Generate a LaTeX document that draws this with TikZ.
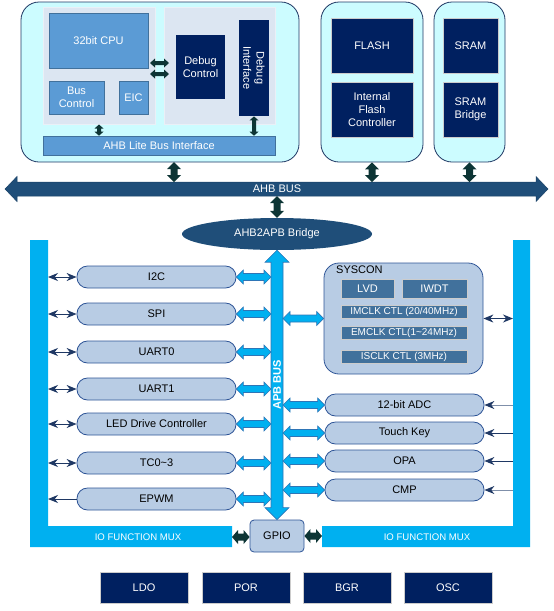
\documentclass[tikz,border=0pt]{standalone}
\usepackage{fontspec}
\setmainfont{Liberation Sans}
\usetikzlibrary{arrows.meta,calc,shapes.geometric}
\definecolor{navy}{HTML}{002060}
\definecolor{busblue}{HTML}{1F4E79}
\definecolor{midblue}{HTML}{5B9BD5}
\definecolor{midblueE}{HTML}{41719C}
\definecolor{panelgrey}{HTML}{DCE6F2}
\definecolor{cyanpanel}{HTML}{CCFCFF}
\definecolor{panelEdge}{HTML}{1F3864}
\definecolor{muxblue}{HTML}{00B0F0}
\definecolor{pillfill}{HTML}{B8CCE4}
\definecolor{pilledge}{HTML}{2F5597}
\definecolor{darkconn}{HTML}{0D3535}
\definecolor{steel}{HTML}{41719C}
\definecolor{apbedge}{HTML}{2E75B6}
\definecolor{navyline}{HTML}{1F3864}
\definecolor{greyline}{HTML}{7F8FA9}
\newcommand\fmain{\fontsize{11}{13.3}\selectfont}
\newcommand\fclk{\fontsize{10}{11}\selectfont}
\newcommand\fmux{\fontsize{9.6}{11}\selectfont}
% horizontal block double arrow: style, left point, right point, shaft half, head half, head length
\newcommand\blkH[6]{\path[#1] let \p1=(#2), \p2=(#3) in (\x1,\y1) -- (\x1+#6pt,\y1+#5pt) -- (\x1+#6pt,\y1+#4pt) -- (\x2-#6pt,\y1+#4pt) -- (\x2-#6pt,\y1+#5pt) -- (\x2,\y1) -- (\x2-#6pt,\y1-#5pt) -- (\x2-#6pt,\y1-#4pt) -- (\x1+#6pt,\y1-#4pt) -- (\x1+#6pt,\y1-#5pt) -- cycle;}
% vertical block double arrow: style, top point, bottom point, shaft half, head half, head length
\newcommand\blkV[6]{\path[#1] let \p1=(#2), \p2=(#3) in (\x1,\y1) -- (\x1+#5pt,\y1-#6pt) -- (\x1+#4pt,\y1-#6pt) -- (\x1+#4pt,\y2+#6pt) -- (\x1+#5pt,\y2+#6pt) -- (\x1,\y2) -- (\x1-#5pt,\y2+#6pt) -- (\x1-#4pt,\y2+#6pt) -- (\x1-#4pt,\y1-#6pt) -- (\x1-#5pt,\y1-#6pt) -- cycle;}
\begin{document}
\begin{tikzpicture}[x=1pt,y=-1pt,
  every node/.style={font=\fmain, inner sep=0pt},
  panel/.style={draw=panelEdge, fill=cyanpanel, rounded corners=18pt, line width=0.8pt},
  greypanel/.style={fill=panelgrey, draw=panelgrey!60!white, line width=1pt},
  mid/.style={fill=midblue, draw=midblueE, line width=0.6pt, text=white, align=center},
  dark/.style={fill=navy, draw=gray!40, line width=0.8pt, text=white, align=center},
  pill/.style={fill=pillfill, draw=pilledge, line width=0.8pt, rounded corners=10.5pt, minimum width=159pt, minimum height=22pt},
  steelbox/.style={fill=steel, draw=gray!40, line width=0.6pt, text=white},
  busarr/.style={fill=busblue, draw=busblue!85!black, line width=0.5pt},
  darkarr/.style={fill=darkconn},
  lightarr/.style={fill=muxblue, draw=apbedge, line width=0.6pt},
  thinnavy/.style={draw=navyline, line width=1pt, arrows={Stealth[length=10pt,width=8pt]-Stealth[length=10pt,width=8pt]}},
  thinin/.style={line width=1pt, arrows={-Stealth[length=10pt,width=8pt,color=navyline]}}
]
\useasboundingbox (0,0) rectangle (554,611);

% ---- CPU subsystem ----
\node[panel, minimum width=278pt, minimum height=160pt] (cpuPanel) at (160,82) {};
\node[greypanel, minimum width=112pt, minimum height=117pt] (leftGrey) at (99,65.5) {};
\node[greypanel, minimum width=111pt, minimum height=117pt] (rightGrey) at (219.5,65.5) {};
\node[mid, minimum width=99pt, minimum height=55pt] (cpu) at (98.5,40.5) {32bit CPU};
\node[mid, minimum width=55pt, minimum height=33pt] (busctl) at (76.5,97.5) {Bus\\Control};
\node[mid, minimum width=29pt, minimum height=33pt] (eic) at (133.5,97.5) {EIC};
\node[dark, draw=none, minimum width=49pt, minimum height=64pt] (dbgctl) at (200.5,67) {Debug\\Control};
\node[dark, draw=none, minimum width=30pt, minimum height=96pt] (dbgif) at (254,68) {};
\node[text=white, rotate=-90, align=center] (dbgiftxt) at (dbgif.center) {Debug\\Interface};
\node[mid, minimum width=232pt, minimum height=19pt] (ahblite) at (159,145.5) {AHB Lite Bus Interface};
\coordinate (cd1a) at (150,63); \coordinate (cd1b) at (169,63);
\coordinate (cd2a) at (150,74); \coordinate (cd2b) at (169,74);
\blkH{darkarr}{cd1a}{cd1b}{2}{4.5}{5}
\blkH{darkarr}{cd2a}{cd2b}{2}{4.5}{5}
\blkV{darkarr}{leftGrey.south}{leftGrey.south |- ahblite.north}{2}{4.5}{4}
\blkV{darkarr}{dbgif.south}{dbgif.south |- ahblite.north}{2}{4.5}{4}

% ---- Flash / SRAM ----
\node[panel, minimum width=102pt, minimum height=160pt] (flashPanel) at (372,82) {};
\node[dark, minimum width=82pt, minimum height=55pt] (flash) at (372,45.5) {FLASH};
\node[dark, minimum width=82pt, minimum height=55pt] (ifc) at (372,109.5) {Internal\\Flash\\Controller};
\node[panel, minimum width=71pt, minimum height=160pt] (sramPanel) at (469.5,82) {};
\node[dark, minimum width=55pt, minimum height=55pt] (sram) at (470.5,45.5) {SRAM};
\node[dark, minimum width=55pt, minimum height=55pt] (sramb) at (470.5,109.5) {SRAM\\Bridge};

% ---- AHB bus ----
\coordinate (ahbL) at (5,189); \coordinate (ahbR) at (548,189);
\blkH{busarr}{ahbL}{ahbR}{7}{12.5}{12}
\node[text=white] (ahbtxt) at (277,189) {AHB BUS};
\coordinate (ahbtop) at (0,182); \coordinate (ahbbot) at (0,196);
\coordinate (cpuout) at (174,162);
\blkV{darkarr}{cpuout}{cpuout |- ahbtop}{3.5}{7}{7}
\blkV{darkarr}{flashPanel.south}{flashPanel.south |- ahbtop}{3.5}{7}{7}
\blkV{darkarr}{sramPanel.south}{sramPanel.south |- ahbtop}{3.5}{7}{7}

% ---- bridge ----
\node[ellipse, fill=busblue, minimum width=190pt, minimum height=32pt, text=white] (bridge) at (277,234) {AHB2APB Bridge};
\blkV{darkarr}{bridge.north |- ahbbot}{bridge.north}{3.5}{7}{7}

% ---- IO function mux ----
\fill[muxblue] (30,240) -- (48,240) -- (48,526) -- (232,526) -- (232,547) -- (30,547) -- cycle;
\fill[muxblue] (513,240) -- (530,240) -- (530,547) -- (322,547) -- (322,526) -- (513,526) -- cycle;
\node[text=white, font=\fmux] (muxLtxt) at (138,537) {IO FUNCTION MUX};
\node[text=white, font=\fmux] (muxRtxt) at (427,537) {IO FUNCTION MUX};
\coordinate (muxLin) at (48,0); \coordinate (muxRin) at (513,0);
\coordinate (muxLend) at (232,537); \coordinate (muxRend) at (322,537);

% ---- GPIO and APB bus ----
\node[fill=pillfill, draw=pilledge, line width=0.8pt, rounded corners=4pt, minimum width=54pt, minimum height=32pt] (gpio) at (277,536) {GPIO};
\blkV{lightarr}{bridge.south}{gpio.north}{6}{12}{12}
\node[text=white, rotate=90, font=\fmain\bfseries] (apbtxt) at (277,385) {APB BUS};
\blkH{darkarr}{muxLend}{gpio.west}{3.5}{7}{6}
\blkH{darkarr}{gpio.east}{muxRend}{3.5}{7}{6}
\coordinate (apbL) at (271,0); \coordinate (apbR) at (283,0);

% ---- left peripherals ----
\node[pill] (i2c) at (156.5,277) {I2C};
\node[pill] (spi) at (156.5,314) {SPI};
\node[pill] (uart0) at (156.5,352) {UART0};
\node[pill] (uart1) at (156.5,389) {UART1};
\node[pill] (led) at (156.5,424) {LED Drive Controller};
\node[pill] (tc) at (156.5,463) {TC0\textasciitilde3};
\node[pill] (epwm) at (156.5,499) {EPWM};
\foreach \q in {i2c,spi,uart0,uart1,led,tc,epwm}{
  \blkH{lightarr}{\q.east}{\q.east -| apbL}{3.5}{7}{7}
}
\foreach \q in {i2c,spi,uart0,uart1,led,tc}{
  \draw[thinnavy] (muxLin |- \q.west) -- (\q.west);
}
\draw[draw=navyline, line width=1pt, arrows={Stealth[length=10pt,width=8pt]-}] (muxLin |- epwm.west) -- (epwm.west);

% ---- SYSCON ----
\node[fill=pillfill, draw=pilledge, line width=0.8pt, rounded corners=15pt, minimum width=159pt, minimum height=111pt] (syscon) at (403.5,318.5) {};
\node[anchor=west] (syscontxt) at (336,270) {SYSCON};
\node[steelbox, minimum width=53pt, minimum height=19pt] (lvd) at (367.5,288.5) {LVD};
\node[steelbox, minimum width=65pt, minimum height=19pt] (iwdt) at (434.5,288.5) {IWDT};
\node[steelbox, font=\fclk, minimum width=126pt, minimum height=13pt] (imclk) at (404,311.5) {IMCLK CTL (20/40MHz)};
\node[steelbox, font=\fclk, minimum width=126pt, minimum height=13pt] (emclk) at (404,333) {EMCLK CTL(1\textasciitilde24MHz)};
\node[steelbox, font=\fclk, minimum width=126pt, minimum height=13pt] (isclk) at (404,356.5) {ISCLK CTL (3MHz)};
\blkH{lightarr}{apbR |- syscon.west}{syscon.west}{3.5}{7}{7}
\draw[thinnavy] (syscon.east) -- (muxRin |- syscon.east);

% ---- right peripherals ----
\node[pill] (adc) at (404.5,405) {12-bit ADC};
\node[pill] (touch) at (404.5,433) {Touch Key};
\node[pill] (opa) at (404.5,461) {OPA};
\node[pill] (cmp) at (404.5,490) {CMP};
\foreach \q in {adc,touch,opa,cmp}{
  \blkH{lightarr}{apbR |- \q.west}{\q.west}{3.5}{7}{7}
}
\draw[thinin, draw=greyline] (muxRin |- adc.east) -- (adc.east);
\draw[thinin, draw=navyline] (muxRin |- touch.east) -- (touch.east);
\draw[thinin, draw=navyline] (muxRin |- opa.east) -- (opa.east);
\draw[thinin, draw=greyline] (muxRin |- cmp.east) -- (cmp.east);

% ---- analog blocks ----
\node[dark, minimum width=88pt, minimum height=31pt] (ldo) at (144,587.5) {LDO};
\node[dark, minimum width=88pt, minimum height=31pt] (por) at (246,587.5) {POR};
\node[dark, minimum width=88pt, minimum height=31pt] (bgr) at (347,587.5) {BGR};
\node[dark, minimum width=88pt, minimum height=31pt] (osc) at (448,587.5) {OSC};
\end{tikzpicture}
\end{document}
